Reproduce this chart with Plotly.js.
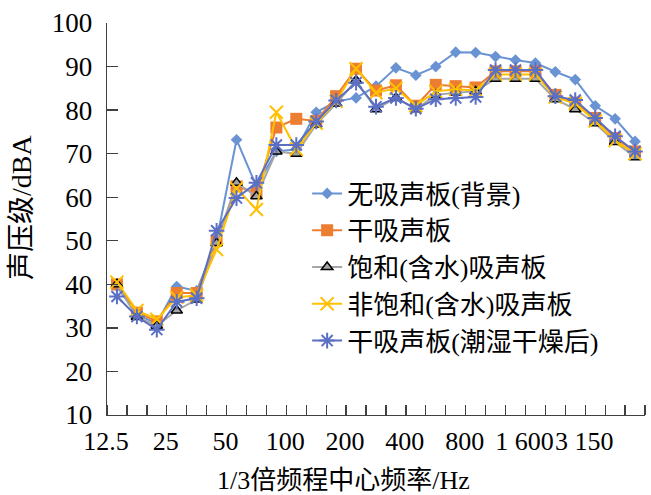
<!DOCTYPE html>
<html><head><meta charset="utf-8">
<script src="https://cdn.plot.ly/plotly-3.0.1.min.js"></script>
<style>html,body{margin:0;padding:0;background:#fff}#chart{width:651px;height:495px}</style>
</head><body><div id="chart"></div>
<script>
// 1/3 octave centre frequencies (Hz)
const categories = ["12.5","16","20","25","31.5","40","50","63","80","100","125","160","200","250","315","400","500","630","800","1000","1250","1600","2000","2500","3150","4000","5000"];
const tickCats = ["12.5","25","50","100","200","400","800","1600","3150"];
const tickLabels = ["12.5","25","50","100","200","400","800","1 600","3 150"];
const seriesNames = ["无吸声板(背景)","干吸声板","饱和(含水)吸声板","非饱和(含水)吸声板","干吸声板(潮湿干燥后)"];
const background = [39.5,33,31,39.5,38.5,50,73.2,62.5,70.5,71,79.5,82,82.8,85.5,89.7,88,90,93.3,93.2,92.3,91.5,90.8,88.8,87,81,78,72.8];
const dryPanel   = [40,33.5,31.5,38,38,50,62.5,61,76,78,77.5,83.2,89.5,84.5,85.7,81,85.8,85.5,85.2,88.9,88.9,88.9,83.5,81.7,78.2,73.6,70.5];
const saturated  = [40,32.5,30.5,34,36.5,49.5,63.3,60.2,70.5,70,76.7,81.5,86.8,80.2,82.8,80.2,83.5,84,84.3,87.2,87.2,87.2,82.5,80.2,77,72.7,69.2];
const unsaturated= [40.5,34,32,37,37.5,48,62,57.2,79.5,71,77,82,89.5,84,85,81,84.3,84.8,84.5,88.2,88.2,88.2,83,81.5,77.5,73,70];
const redried    = [37.2,32.6,29.6,36,36.8,52.3,59.8,63.3,72,72,77.4,82.2,86.3,80.8,82.8,80.3,82.5,82.8,83,89.2,89.2,89.2,83.2,82.3,78.2,74,70.5];

const xIdx = categories.map((c,i)=>i);
const font = "'Liberation Serif','Times New Roman','Noto Sans CJK SC',serif";
const styles = [
  {color:'#6A93D4', symbol:'diamond', size:9, mcolor:'#6A93D4', lw:0},
  {color:'#ED7D31', symbol:'square', size:12, mcolor:'#ED7D31', lw:0},
  {color:'#A5A5A5', symbol:'triangle-up', size:10, mcolor:'#A5A5A5', lw:1.5, lc:'#000'},
  {color:'#FFC000', symbol:'x-thin-open', size:13, mcolor:'#FFC000', lw:2},
  {color:'#5B6FC4', symbol:'asterisk-open', size:13, mcolor:'#5B6FC4', lw:2}
];
const data = [background, dryPanel, saturated, unsaturated, redried].map((ys,k)=>{
  const s = styles[k];
  return {
    type:'scatter', mode:'lines+markers', name:seriesNames[k],
    x:xIdx, y:ys,
    line:{color:s.color, width:2},
    marker:{symbol:s.symbol, size:s.size, color:s.mcolor, line:{width:s.lw, color:s.lc||s.mcolor}}
  };
});
const layout = {
  width:651, height:495,
  margin:{l:107, r:6, t:23, b:80},
  paper_bgcolor:'#fff', plot_bgcolor:'#fff',
  font:{family:font, size:26, color:'#000'},
  showlegend:true,
  legend:{x:0.372, y:0.625, xanchor:'left', yanchor:'top', bgcolor:'rgba(0,0,0,0)',
          font:{family:font, size:26, color:'#000'}, tracegroupgap:0},
  xaxis:{
    range:[-0.5,26.5], showgrid:false, zeroline:false,
    showline:true, linecolor:'#404040', linewidth:1.3,
    tickmode:'array', tickvals:tickCats.map(c=>categories.indexOf(c)), ticktext:tickLabels,
    ticks:'', tickangle:0, ticklabelshift:-11, ticklabelstandoff:2,
    tickfont:{family:font, size:26, color:'#000'},
    minor:{tickmode:'linear', tick0:-0.5, dtick:1, ticks:'inside', ticklen:10, tickcolor:'#404040', tickwidth:1.3, showgrid:false}
  },
  yaxis:{
    range:[10,100], dtick:10, tick0:10, showgrid:false, zeroline:false,
    showline:true, linecolor:'#404040', linewidth:1.3,
    ticks:'inside', ticklen:11, tickcolor:'#404040', tickwidth:1.3,
    tickfont:{family:font, size:27, color:'#000'}, ticklabelstandoff:8
  },
  annotations:[
    {text:'1/3倍频程中心频率/Hz', xref:'paper', yref:'paper', x:(343-107)/538, y:-(480-415)/392, xanchor:'center', yanchor:'middle', showarrow:false, font:{family:font, size:26, color:'#000'}},
    {text:'声压级/dBA', xref:'paper', yref:'paper', x:-(107-21)/538, y:(415-208)/392, xanchor:'center', yanchor:'middle', textangle:-90, showarrow:false, font:{family:font, size:28, color:'#000'}}
  ]
};
Plotly.newPlot('chart', data, layout, {displayModeBar:false, staticPlot:true});
</script>
</body></html>
